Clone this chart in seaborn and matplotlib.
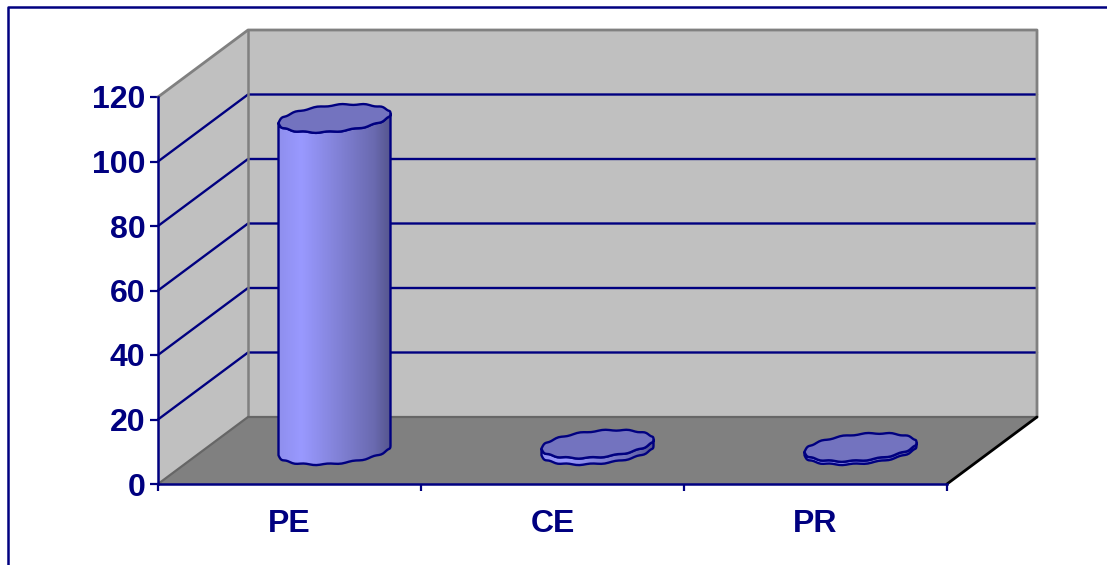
import numpy as np
import matplotlib
matplotlib.use("Agg")
import matplotlib.pyplot as plt
import seaborn as sns
from matplotlib.colors import LinearSegmentedColormap
from matplotlib.lines import Line2D
from matplotlib.patches import Polygon

# Chart values
categories = ["PE", "CE", "PR"]
values = [103, 2, 1]
y_ticks = [0, 20, 40, 60, 80, 100, 120]

# Colours
NAVY = "#000080"
WALL = "#c0c0c0"
FLOOR = "#808080"
EDGE = "#808080"
CAP = "#7373bf"

# Layout in pixels
W, H = 1107, 565
LEFT, RIGHT, TOP, BOTTOM = 158, 947, 97, 484
DEPTH_X, DEPTH_Y = 90, 67

sns.set_style("white")
plt.rcParams["font.family"] = ["Liberation Sans", "DejaVu Sans"]

fig = plt.figure(figsize=(W / 100, H / 100), dpi=100, facecolor="white")
ax = fig.add_axes([LEFT / W, 1 - BOTTOM / H, (RIGHT - LEFT) / W, (BOTTOM - TOP) / H])
ax.patch.set_visible(False)

sns.barplot(x=categories, y=values, width=112 / 263, color=CAP, ax=ax)
bars = list(ax.patches)
ax.set_xlim(-0.5, 2.5)
ax.set_ylim(0, 120)

# size of one pixel in data units
px_x = 3 / (RIGHT - LEFT)
px_y = 120 / (BOTTOM - TOP)
back_x = DEPTH_X * px_x
back_y = DEPTH_Y * px_y


def add_poly(points, face, edge="none", lw=0, z=1):
    poly = Polygon(points, closed=True, facecolor=face, edgecolor=edge,
                   linewidth=lw, zorder=z, clip_on=False, joinstyle="round")
    ax.add_patch(poly)
    return poly


# Walls and floor
x0, x1 = -0.5, 2.5
add_poly([(x0, 0), (x0, 120), (x0 + back_x, 120 + back_y), (x0 + back_x, back_y)],
         WALL, z=0.5)
add_poly([(x0 + back_x, back_y), (x0 + back_x, 120 + back_y),
          (x1 + back_x, 120 + back_y), (x1 + back_x, back_y)], WALL, z=0.5)
add_poly([(x0, 0), (x1, 0), (x1 + back_x, back_y), (x0 + back_x, back_y)],
         FLOOR, z=0.6)

# Wall grid lines
for tick in y_ticks[1:-1]:
    ax.plot([x0, x0 + back_x, x1 + back_x], [tick, tick + back_y, tick + back_y],
            color=NAVY, lw=1.7, zorder=0.8, clip_on=False)

# Wall edges
ax.plot([x0, x0 + back_x, x1 + back_x, x1 + back_x],
        [120, 120 + back_y, 120 + back_y, back_y],
        color=EDGE, lw=2, zorder=0.9, clip_on=False)
ax.plot([x0 + back_x, x0 + back_x], [back_y, 120 + back_y],
        color=EDGE, lw=1.8, zorder=0.9, clip_on=False)
ax.plot([x0, x0 + back_x, x1 + back_x], [0, back_y, back_y],
        color="#666666", lw=1.6, zorder=0.9, clip_on=False)
ax.plot([x1, x1 + back_x], [0, back_y], color="black", lw=2, zorder=0.9, clip_on=False)

# Cylinders, built from the bars seaborn laid out
shade = LinearSegmentedColormap.from_list(
    "cyl", [(0, "#8f8fee"), (0.2, "#9999ff"), (0.55, "#8080d4"),
            (0.85, "#6a6ab0"), (1, "#55558e")])
gradient = np.linspace(0, 1, 256).reshape(1, -1)

half_width = 56
b_y = 14
b_x = b_y * DEPTH_X / DEPTH_Y
a_x = np.sqrt(half_width ** 2 - b_x ** 2)
t0 = np.arctan2(b_x, a_x)


def rim(cx, cy, t):
    # small scallops give the rough outline of the old chart
    dx = a_x * np.cos(t) + b_x * np.sin(t)
    dy = b_y * np.sin(t) + 0.6 * np.cos(14 * t)
    return np.column_stack([cx + dx * px_x, cy + dy * px_y])


for bar in bars:
    cx = bar.get_x() + bar.get_width() / 2 + back_x / 2
    base = back_y / 2
    top = base + bar.get_height()
    bar.set_visible(False)

    front = np.linspace(t0 - np.pi, t0, 49)
    lower = rim(cx, base, front)
    upper = rim(cx, top, front)[::-1]
    body = add_poly(np.vstack([lower, upper]), "none", NAVY, 1.7, z=2.1)

    im = ax.imshow(gradient, cmap=shade, aspect="auto", zorder=2,
                   extent=(lower[:, 0].min(), lower[:, 0].max(), base - 10, top + 10))
    im.set_clip_path(body)
    im.set_clip_on(True)

    add_poly(rim(cx, top, np.linspace(0, 2 * np.pi, 97)[:-1]), CAP, NAVY, 1.7, z=2.2)

ax.set_xlim(-0.5, 2.5)
ax.set_ylim(0, 120)

# Axes
for side in ["top", "right"]:
    ax.spines[side].set_visible(False)
for side in ["left", "bottom"]:
    ax.spines[side].set_color(NAVY)
    ax.spines[side].set_linewidth(1.8)
    ax.spines[side].set_zorder(3)

ax.set_yticks(y_ticks)
ax.set_xticks([0, 1, 2], categories)
ax.set_xticks([-0.5, 0.5, 1.5, 2.5], minor=True)
ax.tick_params(axis="y", left=True, length=6, width=1.6, color=NAVY, pad=3,
               labelsize=23, labelcolor=NAVY)
ax.tick_params(axis="x", which="major", bottom=False, length=0, pad=18,
               labelsize=23, labelcolor=NAVY)
ax.tick_params(axis="x", which="minor", bottom=True, length=5, width=1.6, color=NAVY)
for label in ax.get_xticklabels() + ax.get_yticklabels():
    label.set_fontweight("bold")
ax.set_xlabel("")
ax.set_ylabel("")

# Outer chart border, only left and top fall inside the image
fig.add_artist(Line2D([8 / W, 8 / W, 1], [0, 1 - 7 / H, 1 - 7 / H], color=NAVY, lw=1.8))

fig.savefig("out.png", dpi=100)
